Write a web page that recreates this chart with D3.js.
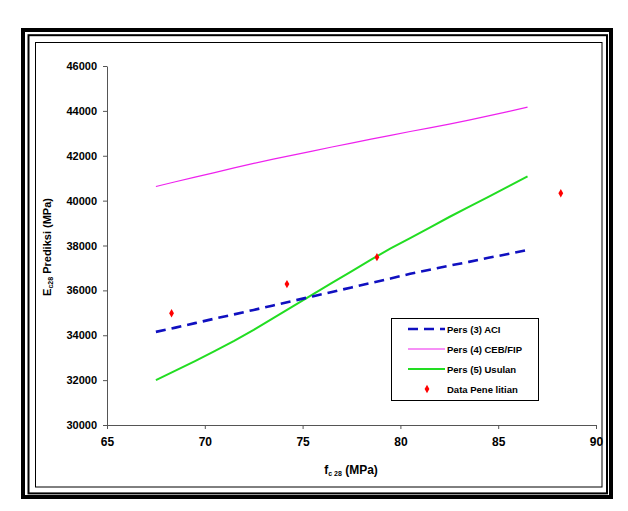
<!DOCTYPE html>
<html>
<head>
<meta charset="utf-8">
<script src="https://cdn.jsdelivr.net/npm/d3@7"></script>
<style>
  body { margin: 0; background: #fff; }
  svg text { font-family: "Liberation Sans", Arial, sans-serif; }
</style>
</head>
<body>
<div id="chart-container"></div>
<script>
// f'c28 (MPa) sample points for the three model curves
const fcValues = [67.5, 68.5, 69.5, 70.5, 71.5, 72.5, 73.5, 74.5, 75.5, 76.5,
                  77.5, 78.5, 79.5, 80.5, 81.5, 82.5, 83.5, 84.5, 85.5, 86.5];
const aciValues = [34150, 34340, 34540, 34740, 34930, 35130, 35330, 35530, 35730, 35930,
                   36130, 36330, 36530, 36740, 36920, 37100, 37270, 37450, 37620, 37800];
const cebValues = [40630, 40840, 41050, 41250, 41460, 41660, 41850, 42030, 42210, 42390,
                   42560, 42740, 42910, 43080, 43240, 43410, 43590, 43780, 43970, 44170];
const usulanValues = [32000, 32420, 32850, 33290, 33750, 34240, 34760, 35290, 35810, 36330,
                      36850, 37370, 37870, 38330, 38800, 39270, 39720, 40170, 40620, 41080];
// measured data
const dataFc = [68.3, 74.2, 78.8, 88.2];
const dataE = [34980, 36280, 37480, 40330];

const xTicks = [65, 70, 75, 80, 85, 90];
const yTicks = [30000, 32000, 34000, 36000, 38000, 40000, 42000, 44000, 46000];
const seriesNames = ["Pers (3) ACI", "Pers (4) CEB/FIP", "Pers (5) Usulan", "Data Pene litian"];

const svg = d3.select("#chart-container").append("svg")
    .attr("width", 628)
    .attr("height", 511);

// triple frame
svg.append("rect").attr("x", 23).attr("y", 30).attr("width", 588).attr("height", 467)
    .attr("fill", "none").attr("stroke", "#000").attr("stroke-width", 4);
svg.append("rect").attr("x", 28.5).attr("y", 35.2).attr("width", 578.5).attr("height", 458.2)
    .attr("fill", "none").attr("stroke", "#000").attr("stroke-width", 2);
svg.append("rect").attr("x", 35.5).attr("y", 42.5).attr("width", 566.5).attr("height", 444.5)
    .attr("fill", "none").attr("stroke", "#000").attr("stroke-width", 1);

const x = d3.scaleLinear().domain([65, 90]).range([107, 596]);
const y = d3.scaleLinear().domain([30000, 46000]).range([425, 66]);

// axes
const xAxis = svg.append("g")
    .attr("transform", `translate(0, ${y(30000)})`)
    .call(d3.axisBottom(x).tickValues(xTicks).tickSize(4).tickPadding(8).tickSizeOuter(0));
const yAxis = svg.append("g")
    .attr("transform", `translate(${x(65)}, 0)`)
    .call(d3.axisLeft(y).tickValues(yTicks).tickSize(4).tickPadding(6).tickSizeOuter(0)
        .tickFormat(d => d));
[xAxis, yAxis].forEach(a => {
    a.select(".domain").attr("stroke", "#555");
    a.selectAll(".tick line").attr("stroke", "#555");
    a.selectAll(".tick text")
        .attr("font-family", "Liberation Sans, Arial, sans-serif")
        .attr("font-weight", "bold")
        .attr("fill", "#000");
});
xAxis.selectAll(".tick text").attr("font-size", 12);
yAxis.selectAll(".tick text").attr("font-size", 11);

// axis titles
const xTitle = svg.append("text")
    .attr("x", 351).attr("y", 474)
    .attr("text-anchor", "middle")
    .attr("font-weight", "bold")
    .attr("font-size", 12);
xTitle.append("tspan").text("f");
xTitle.append("tspan").attr("font-size", 7).attr("dy", 2).text("c 28");
xTitle.append("tspan").attr("dy", -2).text(" (MPa)");

const yTitle = svg.append("text")
    .attr("transform", "translate(51, 247) rotate(-90)")
    .attr("text-anchor", "middle")
    .attr("font-weight", "bold")
    .attr("font-size", 11);
yTitle.append("tspan").text("E");
yTitle.append("tspan").attr("font-size", 7).attr("dy", 2).text("c28");
yTitle.append("tspan").attr("dy", -2).text(" Prediksi (MPa)");

// lines
const pts = vals => fcValues.map((f, i) => [f, vals[i]]);
const line = d3.line().x(d => x(d[0])).y(d => y(d[1]));

svg.append("path").datum(pts(cebValues))
    .attr("fill", "none").attr("stroke", "#ee22ee").attr("stroke-width", 1.2)
    .attr("d", line);
svg.append("path").datum(pts(usulanValues))
    .attr("fill", "none").attr("stroke", "#22dd22").attr("stroke-width", 2)
    .attr("d", line);
svg.append("path").datum(pts(aciValues))
    .attr("fill", "none").attr("stroke", "#1010c0").attr("stroke-width", 2.6)
    .attr("stroke-dasharray", "10,6")
    .attr("d", line);

const diamond = d3.symbol().type(d3.symbolDiamond).size(20);
svg.selectAll(".dot")
    .data(dataFc.map((f, i) => [f, dataE[i]]))
    .enter().append("path")
    .attr("class", "dot")
    .attr("transform", d => `translate(${x(d[0])}, ${y(d[1])})`)
    .attr("d", diamond)
    .attr("fill", "#f00");

// legend
const legend = svg.append("g");
legend.append("rect").attr("x", 391.5).attr("y", 318.5).attr("width", 147).attr("height", 82)
    .attr("fill", "#fff").attr("stroke", "#000").attr("stroke-width", 1);
const rowY = [329, 349, 369, 389];
legend.append("line").attr("x1", 408).attr("x2", 445).attr("y1", rowY[0]).attr("y2", rowY[0])
    .attr("stroke", "#1010c0").attr("stroke-width", 2.6).attr("stroke-dasharray", "10,6");
legend.append("line").attr("x1", 408).attr("x2", 445).attr("y1", rowY[1]).attr("y2", rowY[1])
    .attr("stroke", "#ee22ee").attr("stroke-width", 1.2);
legend.append("line").attr("x1", 408).attr("x2", 445).attr("y1", rowY[2]).attr("y2", rowY[2])
    .attr("stroke", "#22dd22").attr("stroke-width", 2);
legend.append("path").attr("transform", `translate(427, ${rowY[3]})`)
    .attr("d", diamond).attr("fill", "#f00");
legend.selectAll(".ltext")
    .data(seriesNames)
    .enter().append("text")
    .attr("class", "ltext")
    .attr("x", 447)
    .attr("y", (d, i) => rowY[i] + 3.5)
    .attr("font-size", 9.5)
    .attr("font-weight", "bold")
    .text(d => d);
</script>
</body>
</html>
